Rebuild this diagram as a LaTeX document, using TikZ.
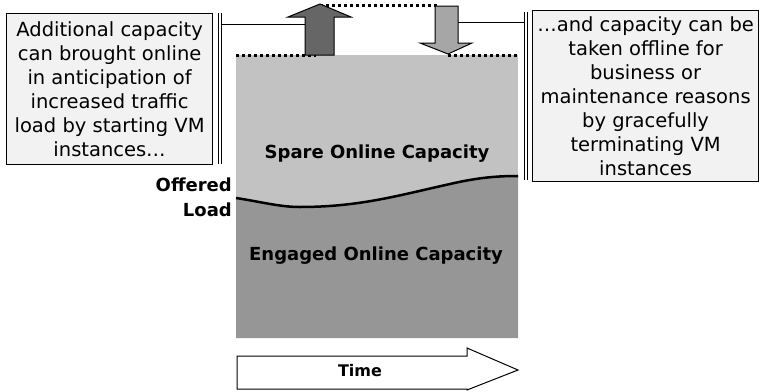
\documentclass[tikz,border=0pt]{standalone}
\usepackage{fontspec}
\setmainfont{DejaVu Sans}
\begin{document}
\begin{tikzpicture}[x=1pt,y=-1pt,
  txtbox/.style={draw=black,line width=1.2pt,fill=black!5,align=center,inner sep=0pt,font=\fontsize{19.5}{24}\selectfont},
  lbl/.style={font=\fontsize{18}{25}\selectfont\bfseries,inner sep=0pt},
  dots/.style={line width=3pt,dash pattern=on 3pt off 3pt},
  conn/.style={line width=0.9pt}]
\useasboundingbox (0,0) rectangle (760,391);
% capacity areas
\fill[black!24] (236,55) rectangle (518,338);
\fill[black!41] (236,198) .. controls (262,202) and (280,207) .. (300,207)
  .. controls (360,207) and (400,195) .. (450,184)
  .. controls (480,177) and (500,176) .. (518,176) -- (518,338) -- (236,338) -- cycle;
\draw[line width=2.5pt] (236,198) .. controls (262,202) and (280,207) .. (300,207)
  .. controls (360,207) and (400,195) .. (450,184)
  .. controls (480,177) and (500,176) .. (518,176);
% dotted capacity levels
\draw[dots] (236,55) -- (316,55);
\draw[dots] (448,55) -- (518,55);
\draw[dots] (320,5) -- (438,5);
% arrows
\fill[black!60,draw=black,line width=1pt] (305,55) -- (305,17) -- (288,17) -- (320,4) -- (351,17) -- (334,17) -- (334,55) -- cycle;
\fill[black!35,draw=black,line width=1pt] (435,6) -- (458,6) -- (458,43) -- (472,43) -- (448,54) -- (420,43) -- (435,43) -- cycle;
% text boxes
\node[txtbox,minimum width=206,minimum height=151,anchor=north west] (lb) at (6,13)
  {Additional capacity\\can brought online\\in anticipation of\\increased traffic\\load by starting VM\\instances\ldots};
\node[txtbox,minimum width=226,minimum height=171,anchor=north west] (rb) at (532,10)
  {\ldots and capacity can be\\taken offline for\\business or\\maintenance reasons\\by gracefully\\terminating VM\\instances};
% brackets / connectors
\coordinate (lv1t) at (218,13); \coordinate (lv1b) at (218,164);
\coordinate (lv2t) at (221,13); \coordinate (lv2b) at (221,164);
\draw[conn] (lv1t) -- (lv1b);
\draw[conn] (lv2t) -- (lv2b);
\coordinate (lh) at (305,24);
\draw[conn] (lv2t |- lh) -- (lh);
\coordinate (rv1t) at (524,12); \coordinate (rv1b) at (524,180);
\coordinate (rv2t) at (527,12); \coordinate (rv2b) at (527,180);
\draw[conn] (rv1t) -- (rv1b);
\draw[conn] (rv2t) -- (rv2b);
\coordinate (rh) at (458,22);
\draw[conn] (rh) -- (rv1t |- rh);
% labels
\node[lbl] (spare) at (377,154) {Spare Online Capacity};
\node[lbl] (eng) at (376,256) {Engaged Online Capacity};
\node[lbl,align=right,anchor=east] (off) at (232,197) {Offered\\Load};
% time arrow
\draw[fill=white,line width=1pt] (237,356) -- (467,356) -- (467,348) -- (518,370) -- (467,390) -- (467,389) -- (237,389) -- cycle;
\node[lbl,font=\fontsize{16}{20}\selectfont\bfseries] (time) at (360,371) {Time};
\end{tikzpicture}
\end{document}
